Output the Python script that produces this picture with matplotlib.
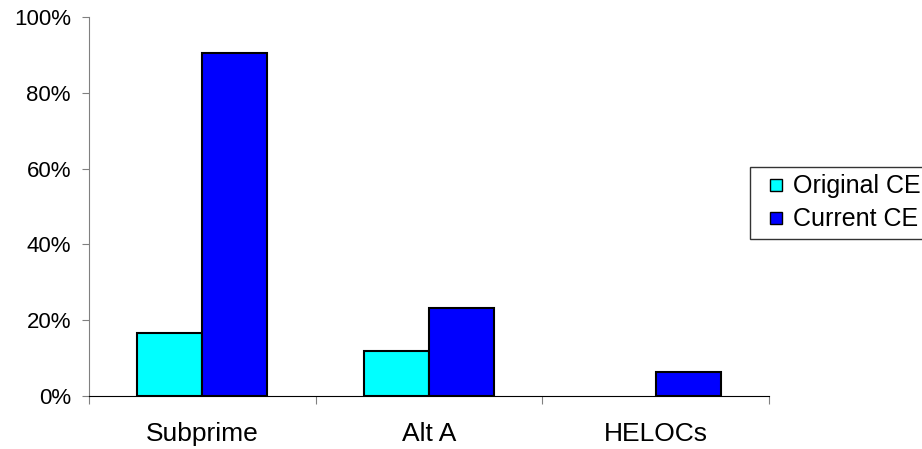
import numpy as np
import matplotlib.pyplot as plt
import matplotlib.patches as mpatches
from matplotlib.legend_handler import HandlerPatch
from matplotlib.ticker import PercentFormatter

# ---------------------------- chart data ----------------------------
categories = ["Subprime", "Alt A", "HELOCs"]
original_ce = [0.167, 0.120, 0.0]
current_ce = [0.906, 0.231, 0.064]
series_names = ["Original CE", "Current CE"]
series_colors = ["#00FFFF", "#0000FF"]

plt.rcParams["font.family"] = ["Liberation Sans", "DejaVu Sans"]


# small square legend key, pushed to the right of the handle box
def square_key(legend, orig_handle, xdescent, ydescent, width, height, fontsize):
    side = 12 * 72 / 100
    return mpatches.Rectangle((-xdescent + width - side, -ydescent + (height - side) / 2),
                              side, side)


fig = plt.figure(figsize=(9.22, 4.49), dpi=100)
ax = fig.add_axes([89 / 922, 53 / 449, 680 / 922, 379 / 449])

x = np.arange(len(categories))
width = 0.287
for offset, values, color in [(-width / 2, original_ce, series_colors[0]),
                              (width / 2, current_ce, series_colors[1])]:
    bars = ax.bar(x + offset, values, width, color=color, edgecolor="black", linewidth=1.5)
    # empty bars show no outline
    for b, v in zip(bars, values):
        if v == 0:
            b.set_linewidth(0)

ax.set_xlim(-0.5, len(categories) - 0.5)
ax.set_ylim(0, 1)
ax.set_yticks(np.arange(0, 1.01, 0.2))
ax.yaxis.set_major_formatter(PercentFormatter(1.0, decimals=0))

# ticks at category boundaries, labels at centres
ax.set_xticks(np.arange(-0.5, len(categories), 1.0))
ax.set_xticklabels([])
ax.set_xticks(x, minor=True)
ax.set_xticklabels(categories, minor=True)
ax.tick_params(axis="x", which="major", direction="out", length=6, color="#808080")
ax.tick_params(axis="x", which="minor", length=0, pad=19, labelsize=19)
ax.tick_params(axis="y", direction="out", length=5, color="#808080", labelsize=16, pad=8)

for side in ["top", "right"]:
    ax.spines[side].set_visible(False)
ax.spines["left"].set_color("#808080")
ax.spines["bottom"].set_color("black")

handles = [mpatches.Patch(facecolor=c, edgecolor="black", linewidth=1.0) for c in series_colors]
leg = fig.legend(handles, series_names, loc="upper left",
                 bbox_to_anchor=(750 / 922, 1 - 167 / 449),
                 fontsize=18, frameon=True, fancybox=False, handlelength=0.98,
                 handleheight=0.7, handletextpad=0.44, borderpad=0.3,
                 labelspacing=0.36, borderaxespad=0,
                 handler_map={mpatches.Patch: HandlerPatch(patch_func=square_key)})
leg.get_frame().set_edgecolor("black")
leg.get_frame().set_linewidth(1.0)

fig.savefig("out.png", dpi=100)
